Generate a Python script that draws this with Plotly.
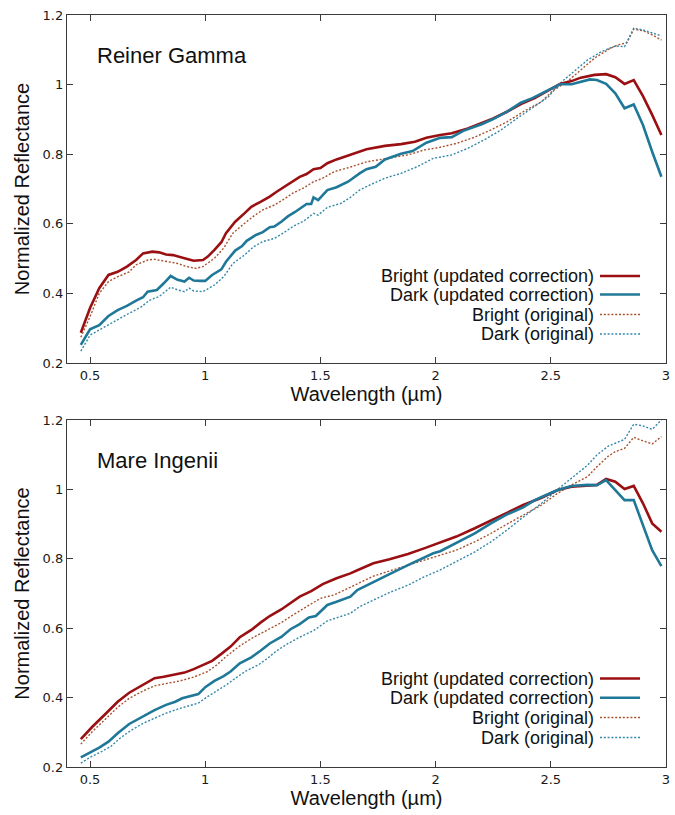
import plotly.graph_objects as go

W, H = 675, 815

# ---------------- Reiner Gamma ----------------
rg_bright_upd_x = [0.46,0.50,0.54,0.58,0.62,0.66,0.70,0.73,0.77,0.80,0.83,0.86,0.91,0.95,0.99,1.01,1.04,1.07,1.09,1.13,
                   1.17,1.20,1.24,1.28,1.31,1.35,1.38,1.41,1.44,1.47,1.50,1.53,1.57,1.62,1.67,1.70,1.78,1.85,1.91,1.96,
                   2.02,2.07,2.14,2.20,2.25,2.31,2.37,2.43,2.49,2.54,2.59,2.63,2.69,2.74,2.78,2.82,2.86,2.90,2.94,2.98]
rg_bright_upd_y = [0.287,0.358,0.415,0.453,0.462,0.477,0.496,0.515,0.520,0.518,0.512,0.510,0.501,0.494,0.496,0.505,0.525,0.547,0.573,0.606,
                   0.630,0.649,0.663,0.678,0.692,0.710,0.721,0.735,0.743,0.757,0.760,0.774,0.785,0.796,0.807,0.814,0.824,0.829,0.836,0.847,
                   0.855,0.860,0.874,0.889,0.903,0.922,0.944,0.961,0.983,1.002,1.010,1.020,1.028,1.030,1.021,1.002,1.013,0.967,0.913,0.855]

rg_dark_upd_x = [0.46,0.50,0.54,0.58,0.62,0.66,0.70,0.73,0.75,0.79,0.82,0.85,0.88,0.91,0.93,0.95,0.98,1.00,1.03,1.07,
                 1.09,1.13,1.16,1.18,1.22,1.25,1.28,1.30,1.33,1.36,1.39,1.44,1.46,1.47,1.49,1.53,1.57,1.62,1.67,1.70,
                 1.74,1.78,1.85,1.90,1.96,2.02,2.07,2.12,2.20,2.25,2.31,2.37,2.42,2.46,2.50,2.54,2.59,2.63,2.67,2.70,
                 2.74,2.78,2.82,2.86,2.90,2.94,2.98]
rg_dark_upd_y = [0.252,0.297,0.309,0.335,0.352,0.364,0.379,0.389,0.405,0.410,0.429,0.450,0.439,0.434,0.445,0.437,0.436,0.436,0.453,0.469,
                 0.491,0.523,0.536,0.551,0.568,0.576,0.590,0.592,0.606,0.622,0.634,0.657,0.657,0.676,0.668,0.697,0.705,0.721,0.745,0.757,
                 0.764,0.785,0.801,0.809,0.833,0.847,0.849,0.867,0.886,0.901,0.922,0.948,0.961,0.975,0.987,1.001,1.001,1.008,1.015,1.013,
                 1.002,0.975,0.932,0.943,0.884,0.807,0.735]

rg_bright_orig_x = [0.46,0.50,0.54,0.58,0.62,0.67,0.70,0.75,0.78,0.83,0.88,0.92,0.96,0.99,1.04,1.08,1.12,1.17,1.21,1.25,
                    1.30,1.34,1.38,1.43,1.47,1.51,1.56,1.62,1.67,1.70,1.79,1.88,1.95,2.02,2.09,2.17,2.24,2.31,2.38,2.46,
                    2.51,2.57,2.63,2.69,2.75,2.79,2.83,2.86,2.90,2.94,2.98]
rg_bright_orig_y = [0.274,0.333,0.400,0.434,0.448,0.462,0.482,0.496,0.498,0.493,0.486,0.477,0.472,0.477,0.501,0.530,0.573,0.601,0.622,0.640,
                    0.654,0.670,0.688,0.704,0.721,0.731,0.750,0.761,0.771,0.778,0.788,0.798,0.812,0.820,0.831,0.849,0.870,0.893,0.922,0.951,
                    0.983,1.008,1.042,1.076,1.101,1.114,1.120,1.159,1.155,1.143,1.128]

rg_dark_orig_x = [0.46,0.50,0.54,0.59,0.63,0.67,0.72,0.76,0.80,0.85,0.88,0.91,0.93,0.95,0.99,1.04,1.08,1.12,1.17,1.21,
                  1.25,1.30,1.34,1.38,1.43,1.47,1.49,1.53,1.59,1.63,1.67,1.70,1.78,1.85,1.92,1.99,2.07,2.14,2.21,2.28,
                  2.36,2.43,2.49,2.54,2.60,2.66,2.72,2.78,2.82,2.86,2.90,2.94,2.98]
rg_dark_orig_y = [0.234,0.280,0.295,0.314,0.328,0.343,0.360,0.381,0.391,0.418,0.410,0.405,0.415,0.407,0.405,0.424,0.448,0.486,0.510,0.534,
                  0.549,0.558,0.574,0.592,0.609,0.630,0.625,0.647,0.659,0.676,0.697,0.707,0.731,0.745,0.764,0.788,0.798,0.817,0.841,0.868,
                  0.906,0.937,0.965,1.004,1.037,1.071,1.095,1.111,1.109,1.162,1.157,1.149,1.140]

# ---------------- Mare Ingenii ----------------
mi_bright_upd_x = [0.46,0.51,0.57,0.62,0.67,0.73,0.78,0.82,0.86,0.91,0.95,0.99,1.03,1.07,1.11,1.15,1.20,1.24,1.28,1.33,
                   1.37,1.41,1.46,1.51,1.57,1.63,1.67,1.73,1.80,1.88,1.95,2.02,2.09,2.17,2.24,2.31,2.38,2.46,2.53,2.59,
                   2.66,2.70,2.74,2.78,2.82,2.86,2.90,2.94,2.98]
mi_bright_upd_y = [0.280,0.316,0.355,0.388,0.414,0.436,0.456,0.460,0.465,0.472,0.482,0.494,0.506,0.526,0.547,0.574,0.595,0.616,0.635,0.654,
                   0.672,0.691,0.707,0.727,0.744,0.758,0.770,0.787,0.799,0.814,0.830,0.846,0.864,0.888,0.910,0.933,0.955,0.976,0.998,1.008,
                   1.010,1.013,1.030,1.022,1.001,1.010,0.960,0.902,0.878]

mi_dark_upd_x = [0.46,0.50,0.54,0.58,0.62,0.67,0.73,0.78,0.83,0.87,0.90,0.94,0.97,1.00,1.04,1.08,1.11,1.15,1.20,1.24,
                 1.28,1.33,1.37,1.41,1.45,1.48,1.53,1.57,1.63,1.66,1.73,1.80,1.88,1.94,1.99,2.02,2.09,2.17,2.24,2.31,
                 2.38,2.43,2.47,2.53,2.59,2.66,2.70,2.74,2.78,2.82,2.86,2.90,2.94,2.98]
mi_dark_upd_y = [0.228,0.242,0.256,0.273,0.297,0.324,0.347,0.364,0.379,0.388,0.398,0.405,0.410,0.430,0.448,0.462,0.475,0.499,0.516,0.535,
                 0.556,0.575,0.597,0.612,0.631,0.635,0.667,0.676,0.691,0.710,0.734,0.756,0.782,0.801,0.816,0.822,0.846,0.873,0.902,0.928,
                 0.948,0.969,0.981,0.998,1.010,1.013,1.012,1.027,0.998,0.969,0.969,0.897,0.825,0.779]

mi_bright_orig_x = [0.46,0.51,0.57,0.62,0.67,0.73,0.78,0.83,0.89,0.95,1.01,1.05,1.09,1.15,1.21,1.27,1.33,1.38,1.44,1.50,
                    1.56,1.62,1.67,1.73,1.80,1.88,1.95,2.02,2.09,2.17,2.24,2.31,2.38,2.46,2.53,2.59,2.66,2.70,2.75,2.78,
                    2.82,2.86,2.90,2.94,2.98]
mi_bright_orig_y = [0.266,0.302,0.340,0.372,0.398,0.419,0.434,0.441,0.448,0.459,0.475,0.494,0.518,0.549,0.574,0.595,0.616,0.638,0.662,0.686,
                    0.696,0.715,0.731,0.750,0.765,0.782,0.797,0.811,0.825,0.849,0.873,0.900,0.926,0.955,0.989,1.013,1.037,1.065,1.096,1.109,
                    1.118,1.150,1.140,1.131,1.152]

mi_dark_orig_x = [0.46,0.50,0.54,0.59,0.63,0.67,0.73,0.78,0.83,0.89,0.94,0.97,1.01,1.05,1.09,1.14,1.18,1.23,1.27,1.31,
                  1.36,1.41,1.47,1.53,1.59,1.63,1.67,1.73,1.80,1.88,1.95,2.02,2.09,2.17,2.24,2.31,2.38,2.46,2.53,2.59,
                  2.66,2.70,2.75,2.78,2.82,2.86,2.90,2.94,2.98]
mi_dark_orig_y = [0.211,0.228,0.241,0.259,0.283,0.302,0.326,0.340,0.355,0.369,0.377,0.384,0.403,0.420,0.436,0.460,0.478,0.494,0.513,0.535,
                  0.556,0.574,0.593,0.621,0.633,0.643,0.662,0.681,0.703,0.724,0.748,0.768,0.792,0.820,0.849,0.883,0.920,0.960,1.000,1.032,
                  1.070,1.099,1.125,1.133,1.144,1.188,1.183,1.173,1.200]

panel_titles = ["Reiner Gamma", "Mare Ingenii"]
series_names = ["Bright (updated correction)", "Dark (updated correction)", "Bright (original)", "Dark (original)"]
x_tickvals = [0.5, 1, 1.5, 2, 2.5, 3]
x_ticktext = ["0.5", "1", "1.5", "2", "2.5", "3"]
y_tickvals = [0.2, 0.4, 0.6, 0.8, 1.0, 1.2]
y_ticktext = ["0.2", "0.4", "0.6", "0.8", "1", "1.2"]

# styles
COLORS = ["#9a0f12", "#1f7898", "#a8532f", "#3488aa"]
WIDTHS = [2.6, 2.6, 1.4, 1.4]
DASHES = ["solid", "solid", "2px,1.8px", "2px,1.8px"]

panels = [
    [(rg_bright_upd_x, rg_bright_upd_y), (rg_dark_upd_x, rg_dark_upd_y),
     (rg_bright_orig_x, rg_bright_orig_y), (rg_dark_orig_x, rg_dark_orig_y)],
    [(mi_bright_upd_x, mi_bright_upd_y), (mi_dark_upd_x, mi_dark_upd_y),
     (mi_bright_orig_x, mi_bright_orig_y), (mi_dark_orig_x, mi_dark_orig_y)],
]

fig = go.Figure()
# draw originals first, updated on top
order = [2, 3, 0, 1]
for p, series in enumerate(panels):
    xa = "x" if p == 0 else "x2"
    ya = "y" if p == 0 else "y2"
    for i in order:
        xs, ys = series[i]
        assert len(xs) == len(ys)
        fig.add_trace(go.Scatter(
            x=xs, y=ys, mode="lines", name=series_names[i], showlegend=False,
            xaxis=xa, yaxis=ya,
            line=dict(color=COLORS[i], width=WIDTHS[i], dash=DASHES[i]),
        ))

def px2paper_x(px):
    return px / W

def px2paper_y(py):
    return (H - py) / H

AX_COLOR = "#3a3a3a"
axis_common = dict(
    showline=True, linecolor=AX_COLOR, linewidth=1.3, mirror="ticks",
    ticks="inside", ticklen=6, tickwidth=1.2, tickcolor=AX_COLOR,
    showgrid=False, zeroline=False, automargin=False,
    tickfont=dict(family="DejaVu Sans", size=13, color="#1a1a1a"),
)
title_font = dict(family="Liberation Sans", size=20, color="#111111")

x_dom = [px2paper_x(67), px2paper_x(666)]
top_dom = [px2paper_y(363), px2paper_y(15)]
bot_dom = [px2paper_y(767), px2paper_y(420)]

xaxis_cfg = dict(axis_common, range=[0.4, 3.0], tickvals=x_tickvals, ticktext=x_ticktext,
                 domain=x_dom, title=dict(text="Wavelength (µm)", font=title_font, standoff=4))
yaxis_cfg = dict(axis_common, range=[0.2, 1.2], tickvals=y_tickvals, ticktext=y_ticktext,
                 title=dict(text="Normalized Reflectance", font=title_font, standoff=7))

fig.update_layout(
    width=W, height=H,
    margin=dict(l=0, r=0, t=0, b=0),
    paper_bgcolor="white", plot_bgcolor="white",
    showlegend=False,
    xaxis=dict(xaxis_cfg, anchor="y"),
    yaxis=dict(yaxis_cfg, domain=top_dom, anchor="x"),
    xaxis2=dict(xaxis_cfg, anchor="y2"),
    yaxis2=dict(yaxis_cfg, domain=bot_dom, anchor="x2"),
)

annotations = []
shapes = []
panel_title_y = [55, 460]
legend_rows = [[276, 294.5, 314.5, 334], [678.5, 697.8, 717.5, 737.5]]
for p in range(2):
    annotations.append(dict(
        text=panel_titles[p], x=px2paper_x(95), y=px2paper_y(panel_title_y[p]),
        xref="paper", yref="paper", xanchor="left", yanchor="middle", showarrow=False,
        font=dict(family="Liberation Sans", size=22, color="#111111"),
    ))
    for i in range(4):
        ry = legend_rows[p][i]
        annotations.append(dict(
            text=series_names[i], x=px2paper_x(596), y=px2paper_y(ry),
            xref="paper", yref="paper", xanchor="right", yanchor="middle", showarrow=False,
            font=dict(family="Liberation Sans", size=18, color="#111111"),
        ))
        shapes.append(dict(
            type="line", xref="paper", yref="paper",
            x0=px2paper_x(600), x1=px2paper_x(640), y0=px2paper_y(ry), y1=px2paper_y(ry),
            line=dict(color=COLORS[i], width=WIDTHS[i], dash=DASHES[i]),
        ))

fig.update_layout(annotations=annotations, shapes=shapes)

fig.write_html("out.html")
